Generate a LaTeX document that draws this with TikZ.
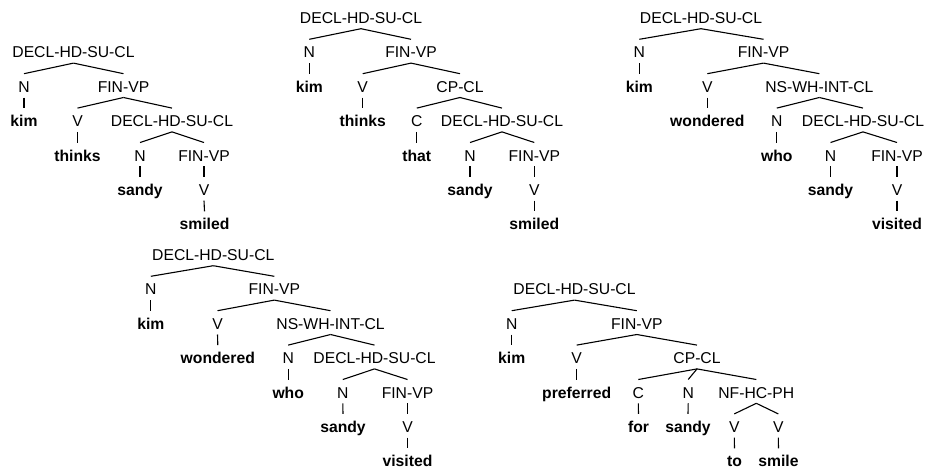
\documentclass[tikz,border=0pt]{standalone}
\usepackage{fontspec}
\setmainfont{Liberation Sans}
\begin{document}
\begin{tikzpicture}[x=1pt,y=-1pt,
  lbl/.style={font=\fontsize{15.7}{18}\selectfont, text height=13.4pt,
              text depth=0pt, inner ysep=5pt, inner xsep=0pt, anchor=base},
  cat/.style={lbl},
  word/.style={lbl, font=\fontsize{15.7}{18}\selectfont\bfseries},
  branch/.style={line width=1.1pt}]
\useasboundingbox (0,0) rectangle (926,469);

% kim thinks sandy smiled
\node[cat]  (a0)  at (73.5,57.9)  {DECL-HD-SU-CL};
\node[cat]  (a1)  at (24,92.3)    {N};
\node[cat]  (a2)  at (123.5,92.3) {FIN-VP};
\node[word] (a3)  at (24,126.7)   {kim};
\node[cat]  (a4)  at (77.5,126.7) {V};
\node[cat]  (a5)  at (172,126.7)  {DECL-HD-SU-CL};
\node[word] (a6)  at (77.5,161.1) {thinks};
\node[cat]  (a7)  at (140,161.1)  {N};
\node[cat]  (a8)  at (204,161.1)  {FIN-VP};
\node[word] (a9)  at (140,195.5)  {sandy};
\node[cat]  (a10) at (204,195.5)  {V};
\node[word] (a11) at (204.5,229.9) {smiled};

% kim thinks that sandy smiled
\node[cat]  (b0)  at (361,23.5)    {DECL-HD-SU-CL};
\node[cat]  (b1)  at (309.3,57.9)  {N};
\node[cat]  (b2)  at (411,57.9)    {FIN-VP};
\node[word] (b3)  at (309.3,92.3)  {kim};
\node[cat]  (b4)  at (362.7,92.3)  {V};
\node[cat]  (b5)  at (460,92.3)    {CP-CL};
\node[word] (b6)  at (362.7,126.7) {thinks};
\node[cat]  (b7)  at (416.8,126.7) {C};
\node[cat]  (b8)  at (502,126.7)   {DECL-HD-SU-CL};
\node[word] (b9)  at (416.8,161.1) {that};
\node[cat]  (b10) at (470,161.1)   {N};
\node[cat]  (b11) at (534.3,161.1) {FIN-VP};
\node[word] (b12) at (470,195.5)   {sandy};
\node[cat]  (b13) at (534.3,195.5) {V};
\node[word] (b14) at (534.3,229.9) {smiled};

% kim wondered who sandy visited
\node[cat]  (c0)  at (701,23.5)    {DECL-HD-SU-CL};
\node[cat]  (c1)  at (639.3,57.9)  {N};
\node[cat]  (c2)  at (763.5,57.9)  {FIN-VP};
\node[word] (c3)  at (639.3,92.3)  {kim};
\node[cat]  (c4)  at (707.3,92.3)  {V};
\node[cat]  (c5)  at (819.4,92.3)  {NS-WH-INT-CL};
\node[word] (c6)  at (707.3,126.7) {wondered};
\node[cat]  (c7)  at (776.8,126.7) {N};
\node[cat]  (c8)  at (863,126.7)   {DECL-HD-SU-CL};
\node[word] (c9)  at (776.8,161.1) {who};
\node[cat]  (c10) at (830.5,161.1) {N};
\node[cat]  (c11) at (897,161.1)   {FIN-VP};
\node[word] (c12) at (830.5,195.5) {sandy};
\node[cat]  (c13) at (897,195.5)   {V};
\node[word] (c14) at (897,229.9)   {visited};

% kim wondered who sandy visited (second copy)
\node[cat]  (d0)  at (213.3,260.5) {DECL-HD-SU-CL};
\node[cat]  (d1)  at (150.8,294.9) {N};
\node[cat]  (d2)  at (274.3,294.9) {FIN-VP};
\node[word] (d3)  at (150.8,329.3) {kim};
\node[cat]  (d4)  at (217.5,329.3) {V};
\node[cat]  (d5)  at (330.5,329.3) {NS-WH-INT-CL};
\node[word] (d6)  at (217.8,363.7) {wondered};
\node[cat]  (d7)  at (288.2,363.7) {N};
\node[cat]  (d8)  at (374.5,363.7) {DECL-HD-SU-CL};
\node[word] (d9)  at (288.2,398.1) {who};
\node[cat]  (d10) at (342.8,398.1) {N};
\node[cat]  (d11) at (407.5,398.1) {FIN-VP};
\node[word] (d12) at (343,432.5)   {sandy};
\node[cat]  (d13) at (407.5,432.5) {V};
\node[word] (d14) at (407.5,466.9) {visited};

% kim preferred for sandy to smile
\node[cat]  (e0)  at (574.5,294.9) {DECL-HD-SU-CL};
\node[cat]  (e1)  at (511.7,329.3) {N};
\node[cat]  (e2)  at (636.8,329.3) {FIN-VP};
\node[word] (e3)  at (511.7,363.7) {kim};
\node[cat]  (e4)  at (576.7,363.7) {V};
\node[cat]  (e5)  at (697,363.7)   {CP-CL};
\node[word] (e6)  at (576.7,398.1) {preferred};
\node[cat]  (e7)  at (638.3,398.1) {C};
\node[cat]  (e8)  at (688.2,398.1) {N};
\node[cat]  (e9)  at (756.3,398.1) {NF-HC-PH};
\node[word] (e10) at (638.5,432.5) {for};
\node[word] (e11) at (688,432.5)   {sandy};
\node[cat]  (e12) at (734.3,432.5) {V};
\node[cat]  (e13) at (778.3,432.5) {V};
\node[word] (e14) at (734.5,466.9) {to};
\node[word] (e15) at (778.5,466.9) {smile};

% branches
\foreach \p/\c in {a0/a1,a0/a2,a1/a3,a2/a4,a2/a5,a4/a6,a5/a7,a5/a8,a7/a9,a8/a10,a10/a11,
  b0/b1,b0/b2,b1/b3,b2/b4,b2/b5,b4/b6,b5/b7,b5/b8,b7/b9,b8/b10,b8/b11,b10/b12,b11/b13,b13/b14,
  c0/c1,c0/c2,c1/c3,c2/c4,c2/c5,c4/c6,c5/c7,c5/c8,c7/c9,c8/c10,c8/c11,c10/c12,c11/c13,c13/c14,
  d0/d1,d0/d2,d1/d3,d2/d4,d2/d5,d4/d6,d5/d7,d5/d8,d7/d9,d8/d10,d8/d11,d10/d12,d11/d13,d13/d14,
  e0/e1,e0/e2,e1/e3,e2/e4,e2/e5,e4/e6,e5/e7,e5/e8,e5/e9,e7/e10,e8/e11,e9/e12,e9/e13,e12/e14,e13/e15}
  \draw[branch] (\p.south) -- (\c.north);
\end{tikzpicture}
\end{document}
